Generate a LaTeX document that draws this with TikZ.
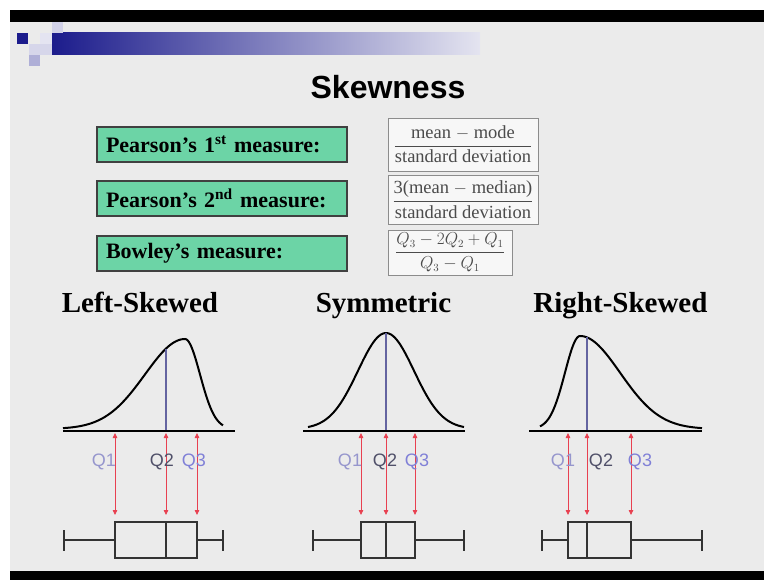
\documentclass[tikz,border=0pt]{standalone}
\usepackage{amsmath}
\usepackage{fontspec}
\setmainfont{Liberation Serif}
\setsansfont{Liberation Sans}
\usetikzlibrary{arrows.meta}
\definecolor{slidebg}{RGB}{235,235,235}
\definecolor{navy}{RGB}{28,28,140}
\definecolor{mint}{RGB}{108,212,166}
\definecolor{qred}{RGB}{232,64,80}
\definecolor{medline}{RGB}{100,100,160}
\definecolor{qone}{RGB}{150,150,205}
\definecolor{qtwo}{RGB}{80,80,105}
\definecolor{qthree}{RGB}{128,128,215}
\definecolor{fgray}{RGB}{75,75,75}
\newcommand{\ratio}[2]{\genfrac{}{}{1.1pt}{0}{#1}{#2}}
\tikzset{
  measure/.style={draw=black!75,line width=1.2pt,fill=mint,minimum width=250pt,minimum height=35pt,
    text width=232pt,align=left,font=\fontsize{22}{25}\selectfont\bfseries},
  formula/.style={draw=black!45,line width=0.8pt,fill=white!60!slidebg,inner sep=1pt,
    text=fgray,font=\fontsize{18.5}{22}\selectfont},
  heading/.style={anchor=base,font=\fontsize{29}{33}\selectfont\bfseries},
  qlab/.style={font=\sffamily\fontsize{18}{20}\selectfont},
  curve/.style={line width=2pt,line join=round},
  qarrow/.style={qred,line width=0.8pt,{Triangle[length=5pt,width=4.5pt]}-{Triangle[length=5pt,width=4.5pt]}},
  bplot/.style={black!80,line width=1.5pt}
}
\begin{document}
\begin{tikzpicture}[x=1pt,y=-1pt]
% slide frame
\fill[white] (0,0) rectangle (764,580);
\fill[slidebg] (10,22) rectangle (764,571);
\fill[black] (10,10) rectangle (764,22);
\fill[black] (10,571) rectangle (764,580);
\shade[left color=navy,right color={rgb,255:red,228;green,228;blue,240}] (52,33) rectangle (480,55);
\fill[navy] (17,33) rectangle (28,44);
\fill[navy!20] (52,22) rectangle (63,33);
\fill[navy!12] (40,33) rectangle (52,44);
\fill[navy!18] (29,44) rectangle (52,55);
\fill[navy!35] (29,55) rectangle (40,66);

\node[anchor=base,font=\sffamily\bfseries\fontsize{32}{36}\selectfont] (title) at (388,99) {Skewness};

% the three measures
\node[measure] (p1) at (222,144.5) {Pearson’s 1\textsuperscript{st} measure:};
\node[measure] (p2) at (222,198.5) {Pearson’s 2\textsuperscript{nd} measure:};
\node[measure] (bw) at (222,253.5) {Bowley’s measure:};
\node[formula,minimum width=150pt,minimum height=53pt] (f1) at (463,144.5)
  {$\ratio{\mbox{mean $-$ mode}}{\mbox{standard deviation}}$};
\node[formula,minimum width=150pt,minimum height=49pt] (f2) at (463,199.5)
  {$\ratio{\mbox{3(mean $-$ median)}}{\mbox{standard deviation}}$};
\node[formula,minimum width=124pt,minimum height=45pt,font=\fontsize{16}{19}\selectfont] (f3) at (450,252.5)
  {$\dfrac{Q_3-2Q_2+Q_1}{Q_3-Q_1}$};

% headings
\node[heading] (hl) at (140,313) {Left-Skewed};
\node[heading] (hs) at (383.5,313) {Symmetric};
\node[heading] (hr) at (620.5,313) {Right-Skewed};

% curves
\draw[curve] plot[domain=-122:0,samples=60] ({185+\x},{429-90*exp(-0.5*(\x/40)*(\x/40))})
  -- plot[domain=0:38,samples=30] ({185+\x},{429-90*exp(-0.5*(\x/15)*(\x/15))});
\draw[curve] plot[domain=-78:78,samples=80] ({386+\x},{429-96*exp(-0.5*(\x/28)*(\x/28))});
\draw[curve] plot[domain=-40:0,samples=30] ({580+\x},{429-93*exp(-0.5*(\x/15)*(\x/15))})
  -- plot[domain=0:122,samples=60] ({580+\x},{429-93*exp(-0.5*(\x/40)*(\x/40))});

% medians on the curves
\coordinate (ml) at (166,348.6);
\coordinate (ms) at (386,333);
\coordinate (mr) at (587,337.4);
\foreach \m in {ml,ms,mr}
  \draw[medline,line width=1.2pt] (\m) -- (\m |- 0,431);

% axes
\draw[line width=2pt] (63,431) -- (235,431);
\draw[line width=2pt] (303,431) -- (465,431);
\draw[line width=2pt] (529,431) -- (702,431);

% box plots with quartile arrows
\foreach \wl/\ql/\qm/\qr/\wr [count=\p] in {64/115/166/197/223, 313/361/386/415/464, 542/568/587/631/702} {
  \draw[bplot] (\wl,530) -- (\wl,551) (\wl,540) -- (\ql,540) (\ql,522) rectangle (\qr,558)
    (\qm,522) -- (\qm,558) (\qr,540) -- (\wr,540) (\wr,530) -- (\wr,551);
  \foreach \x [count=\k] in {\ql,\qm,\qr} {
    \coordinate (t\p\k) at (\x,433);
    \coordinate (b\p\k) at (\x,515);
    \draw[qarrow] (t\p\k) -- (b\p\k);
  }
}
\foreach \x/\q/\c [count=\i] in {104/Q1/qone, 162/Q2/qtwo, 194/Q3/qthree, 350/Q1/qone, 385/Q2/qtwo,
    417/Q3/qthree, 563/Q1/qone, 601/Q2/qtwo, 640/Q3/qthree}
  \node[qlab,text=\c] (q\i) at (\x,462) {\q};
\end{tikzpicture}
\end{document}
